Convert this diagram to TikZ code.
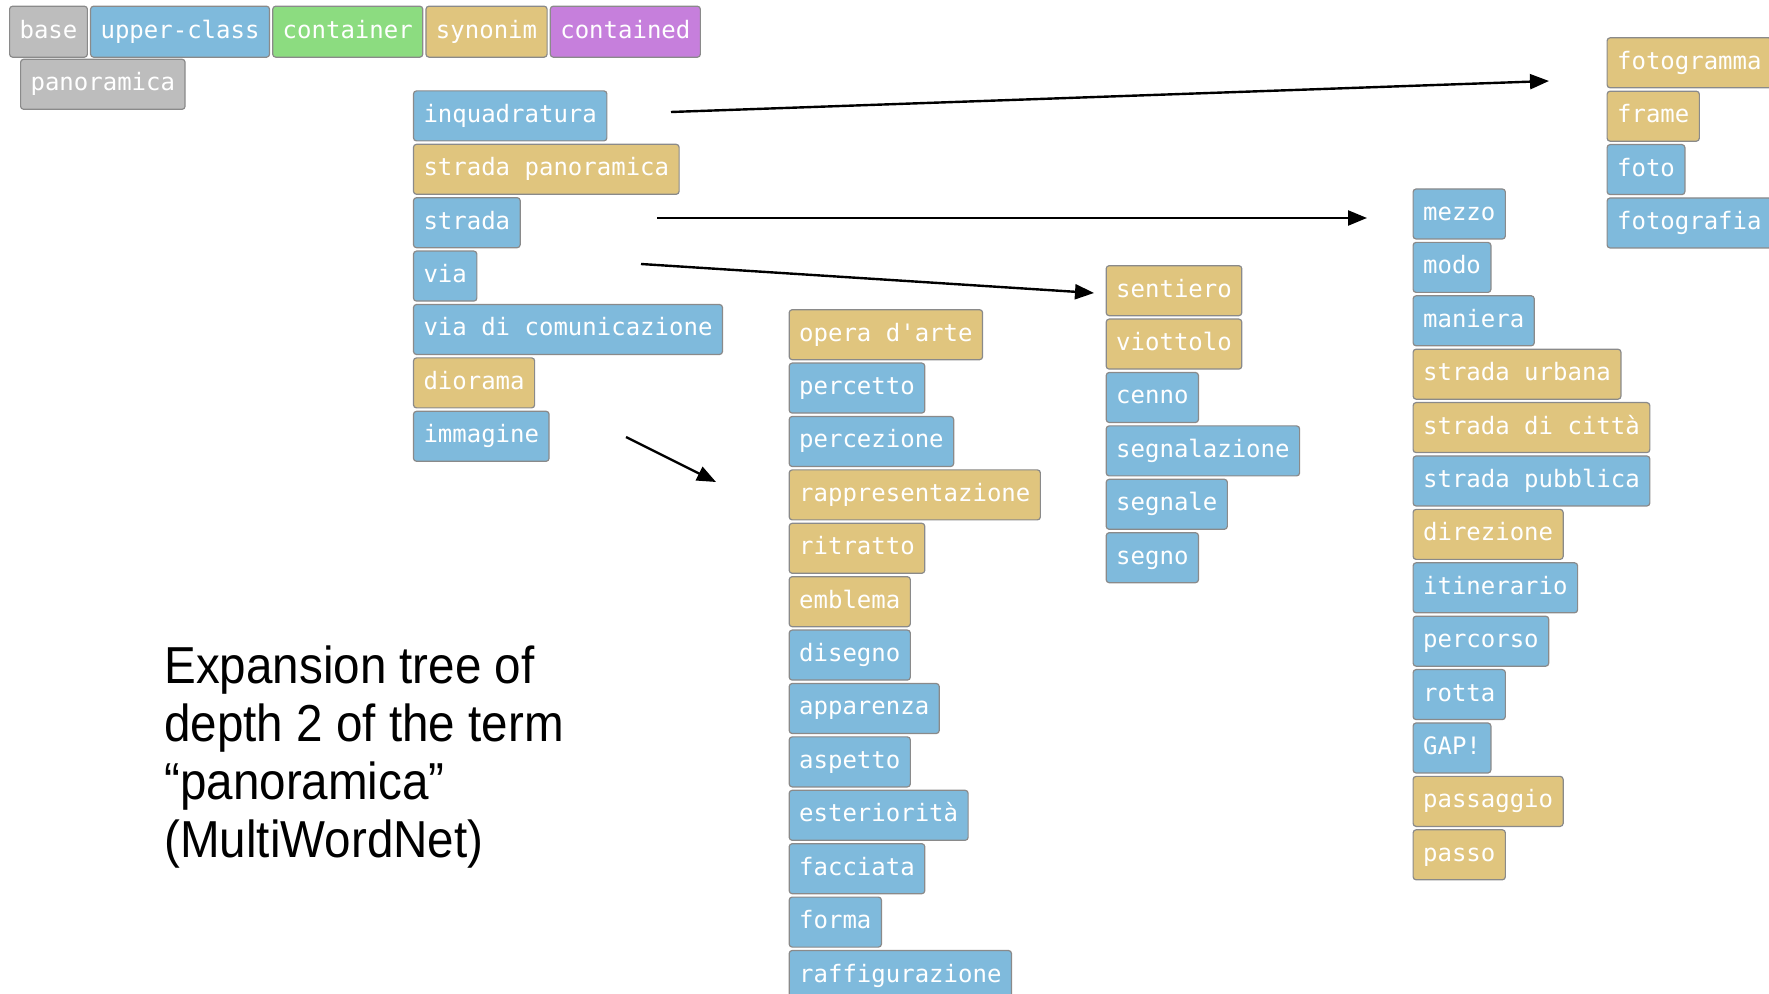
\documentclass[tikz,border=0pt]{standalone}
\usepackage{fontspec}
\setmainfont{Liberation Sans}
\newfontfamily\boxfont{DejaVu Sans Mono}
\usetikzlibrary{arrows.meta}
\definecolor{cblue}{HTML}{7FBADC}
\definecolor{ctan}{HTML}{E0C57E}
\definecolor{cgreen}{HTML}{8CDC80}
\definecolor{cpurple}{HTML}{C67FDC}
\definecolor{cgray}{HTML}{BDBDBD}
\definecolor{cborder}{HTML}{8A8A8A}
\tikzset{
  term/.style={draw=cborder, line width=0.6pt, rounded corners=1.5pt, anchor=north west,
    font=\boxfont\fontsize{12}{14}\selectfont, text=white, inner xsep=5pt, inner ysep=0pt,
    minimum height=25pt, text height=9pt, text depth=2.5pt},
  link/.style={line width=1.2pt, -{Triangle[length=9.5pt,width=7.5pt]}},
  captext/.style={anchor=base west, inner sep=0pt, font=\fontsize{26}{30}\selectfont}
}
\begin{document}
\begin{tikzpicture}[x=0.5pt,y=-0.5pt]
\useasboundingbox (0,0) rectangle (1769,994);
% legend
\node[term, fill=cgray, minimum height=25.5pt] (lbase) at (9,5.6) {base};
\node[term, fill=cblue, minimum height=25.5pt] (lup) at ([xshift=1pt]lbase.north east) {upper-class};
\node[term, fill=cgreen, minimum height=25.5pt] (lcont) at ([xshift=1pt]lup.north east) {container};
\node[term, fill=ctan, minimum height=25.5pt] (lsyn) at ([xshift=1pt]lcont.north east) {synonim};
\node[term, fill=cpurple, minimum height=25.5pt] (lctd) at ([xshift=1pt]lsyn.north east) {contained};
\node[term, fill=cgray] (pan) at (20,58.7) {panoramica};
% column 1
\foreach \t/\c [count=\i from 0] in {inquadratura/cblue, strada panoramica/ctan, strada/cblue, via/cblue, via di comunicazione/cblue, diorama/ctan, immagine/cblue}
  \node[term, fill=\c] (a\i) at (412.9,{90.3+53.4*\i}) {\t};
% column 2
\foreach \t/\c [count=\i from 0] in {opera d'arte/ctan, percetto/cblue, percezione/cblue, rappresentazione/ctan, ritratto/ctan, emblema/ctan, disegno/cblue, apparenza/cblue, aspetto/cblue, esteriorità/cblue, facciata/cblue, forma/cblue, raffigurazione/cblue}
  \node[term, fill=\c] (b\i) at (788.6,{309.1+53.4*\i}) {\t};
% column 3
\foreach \t/\c [count=\i from 0] in {sentiero/ctan, viottolo/ctan, cenno/cblue, segnalazione/cblue, segnale/cblue, segno/cblue}
  \node[term, fill=\c] (c\i) at (1105.6,{265.1+53.4*\i}) {\t};
% column 4
\foreach \t/\c [count=\i from 0] in {mezzo/cblue, modo/cblue, maniera/cblue, strada urbana/ctan, strada di città/ctan, strada pubblica/cblue, direzione/ctan, itinerario/cblue, percorso/cblue, rotta/cblue, GAP!/cblue, passaggio/ctan, passo/ctan}
  \node[term, fill=\c] (d\i) at (1412.5,{188.4+53.4*\i}) {\t};
% column 5
\foreach \t/\c [count=\i from 0] in {fotogramma/ctan, frame/ctan, foto/cblue, fotografia/cblue}
  \node[term, fill=\c] (e\i) at (1606.5,{37.2+53.4*\i}) {\t};
% arrows
\coordinate (s1) at (671,112); \coordinate (t1) at (1549,81);
\coordinate (s2) at (657,218); \coordinate (t2) at (1367,218);
\coordinate (s3) at (641,264); \coordinate (t3) at (1094,293);
\coordinate (s4) at (626,437); \coordinate (t4) at (716,482);
\draw[link] (s1) -- (t1);
\draw[link] (s2) -- (t2);
\draw[link] (s3) -- (t3);
\draw[link] (s4) -- (t4);
% caption
\node[captext] (cap1) at (164,683) {\scalebox{0.915}[1]{Expansion tree of}};
\node[captext] (cap2) at (164,741) {\scalebox{0.915}[1]{depth 2 of the term}};
\node[captext] (cap3) at (164,799) {\scalebox{0.915}[1]{“panoramica”}};
\node[captext] (cap4) at (164,857) {\scalebox{0.915}[1]{(MultiWordNet)}};
\end{tikzpicture}
\end{document}
